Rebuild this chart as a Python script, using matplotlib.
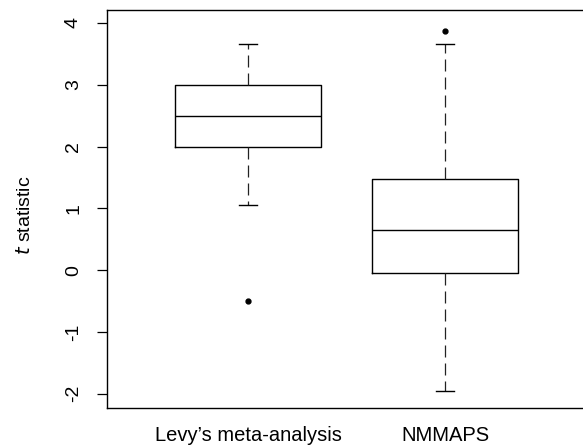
import matplotlib
matplotlib.use("Agg")
import matplotlib.pyplot as plt

plt.rcParams['font.family'] = ['Liberation Sans', 'DejaVu Sans']

categories = ["Levy\u2019s meta-analysis", "NMMAPS"]
q1 = [2.0, -0.04]
medians = [2.5, 0.65]
q3 = [3.0, 1.47]
whislo = [1.05, -1.96]
whishi = [3.66, 3.66]
fliers = [[-0.5], [3.87]]
yticks = [-2, -1, 0, 1, 2, 3, 4]

stats = []
for i, c in enumerate(categories):
    stats.append(dict(label=c, q1=q1[i], med=medians[i], q3=q3[i],
                      whislo=whislo[i], whishi=whishi[i], fliers=fliers[i]))

fig = plt.figure(figsize=(5.83, 4.47), dpi=100)
ax = fig.add_axes([107/583, 39/447, 479/583, 398/447])

ax.bxp(stats, positions=[1, 2], widths=0.746, capwidths=0.09, showfliers=True,
       boxprops=dict(color='black', linewidth=1.0),
       medianprops=dict(color='black', linewidth=1.0),
       whiskerprops=dict(color='#222222', linewidth=0.9, linestyle=(0, (9.6, 4.8))),
       capprops=dict(color='black', linewidth=1.0),
       flierprops=dict(marker='o', markerfacecolor='black', markeredgecolor='black',
                       markersize=3.5, linestyle='none'))

ax.set_xlim(0.284, 2.716)
ax.set_ylim(-2.23, 4.21)
ax.set_yticks(yticks)
ax.set_yticklabels([str(t) for t in yticks], rotation=90, va='center', fontsize=14)
ax.tick_params(axis='y', direction='out', length=7, width=0.9, pad=11)
ax.tick_params(axis='x', length=0, pad=13, labelsize=14.5)
ax.spines['right'].set_visible(False)
for s in ['left', 'top', 'bottom']:
    ax.spines[s].set_linewidth(1.0)

ax.set_ylabel(r"$\it{t}$ statistic", fontsize=14, va='center')
ax.yaxis.set_label_coords(-0.171, 0.485)

fig.savefig("out.png", dpi=100)
